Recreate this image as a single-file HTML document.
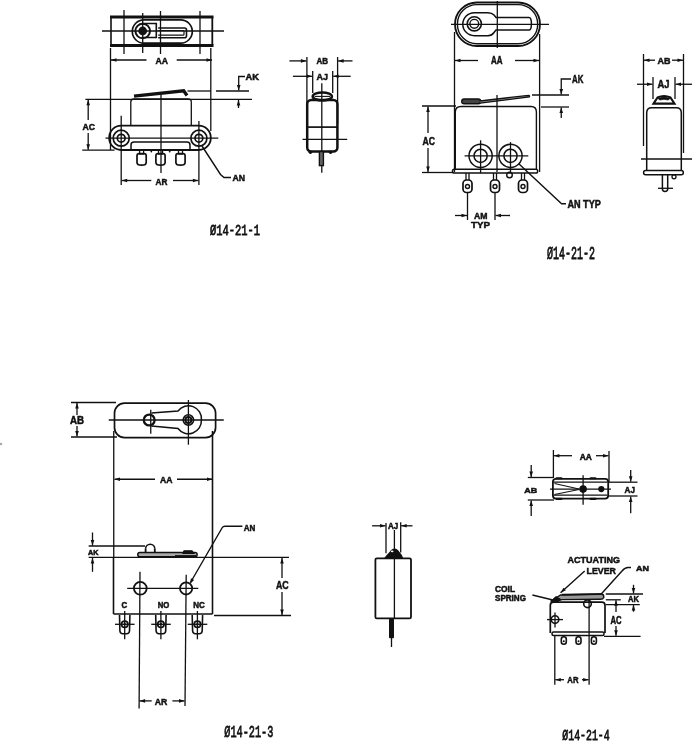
<!DOCTYPE html>
<html><head><meta charset="utf-8"><style>
html,body{margin:0;padding:0;background:#fff;width:694px;height:741px;overflow:hidden}
svg{display:block;will-change:transform}
</style></head><body>
<svg width="694" height="741" viewBox="0 0 694 741" stroke="#111" fill="none" stroke-linecap="butt">
<rect x="0" y="0" width="694" height="741" fill="#fff" stroke="none"/>
<line x1="111" y1="17" x2="111" y2="45.5" stroke-width="1.6"/>
<line x1="212.3" y1="17" x2="212.3" y2="45.5" stroke-width="1.8"/>
<line x1="110" y1="17" x2="213.5" y2="17" stroke-width="3.1"/>
<line x1="110" y1="45.5" x2="213.5" y2="45.5" stroke-width="3.1"/>
<line x1="102" y1="31" x2="224" y2="31" stroke-width="1.3"/>
<line x1="124" y1="10" x2="124" y2="54" stroke-width="1.3"/>
<line x1="142.7" y1="13" x2="142.7" y2="53" stroke-width="1.3"/>
<line x1="160.5" y1="11" x2="160.5" y2="54" stroke-width="1.3"/>
<line x1="200" y1="11" x2="200" y2="54" stroke-width="1.3"/>
<rect x="132.3" y="19.8" width="60" height="23.4" rx="11.7" stroke-width="1.7" fill="none"/>
<circle cx="142.7" cy="31" r="7.3" stroke-width="2.0" fill="none"/>
<circle cx="142.7" cy="31" r="4.4" stroke-width="0" fill="#111"/>
<path d="M141.7,23.5 L156.3,23.5 L156.3,37.5 L141.7,37.5" stroke-width="1.6" fill="none"/>
<path d="M158.2,28 L184.5,28 Q186.5,28 186.5,30 L186.5,35.7 Q186.5,37.7 184.5,37.7 L158.2,37.7" stroke-width="1.6" fill="none"/>
<path d="M158.2,30.5 L183,30.5 Q184,30.5 184,31.5 L184,34.2 Q184,35.2 183,35.2 L158.2,35.2" stroke-width="1.2" fill="none"/>
<line x1="146.5" y1="60" x2="111" y2="60" stroke-width="1.3"/>
<polygon points="111,60 116.50,58.20 116.50,61.80" fill="#111" stroke="none"/>
<line x1="176.7" y1="60" x2="212" y2="60" stroke-width="1.3"/>
<polygon points="212,60 206.50,61.80 206.50,58.20" fill="#111" stroke="none"/>
<text x="155.5" y="64" font-family="Liberation Sans" font-weight="bold" font-size="9.74" textLength="12.50" lengthAdjust="spacingAndGlyphs" fill="#111" stroke="#111" stroke-width="0.5">AA</text>
<line x1="110.5" y1="48" x2="110.5" y2="150" stroke-width="1.3"/>
<line x1="210.8" y1="48" x2="210.8" y2="131" stroke-width="1.3"/>
<polyline points="134,96.2 183.7,90.8 187,95.5" stroke-width="3.3" fill="none"/>
<path d="M130.8,125.6 L130.8,102 Q130.8,99 134,99 L188,99 Q191.3,99 191.3,102 L191.3,125.6" stroke-width="1.3" fill="none"/>
<rect x="109.2" y="125.6" width="101.6" height="24.4" rx="12" stroke-width="1.8" fill="none"/>
<path d="M131,150 L131,145 Q131,142 134,142 L187,142 Q190,142 190,145 L190,150" stroke-width="1.5" fill="none"/>
<circle cx="121.2" cy="138.2" r="8" stroke-width="1.7" fill="none"/>
<circle cx="121.2" cy="138.2" r="3.9" stroke-width="1.7" fill="none"/>
<circle cx="198.9" cy="138.2" r="8" stroke-width="1.7" fill="none"/>
<circle cx="198.9" cy="138.2" r="3.9" stroke-width="1.7" fill="none"/>
<line x1="105.5" y1="138.2" x2="218.3" y2="138.2" stroke-width="1.3"/>
<line x1="121.2" y1="115.7" x2="121.2" y2="185" stroke-width="1.3"/>
<line x1="198.9" y1="121" x2="198.9" y2="185" stroke-width="1.3"/>
<line x1="161" y1="95" x2="161" y2="173" stroke-width="1.3"/>
<rect x="139.6" y="150" width="4" height="4" rx="0" stroke-width="1.3" fill="none"/>
<path d="M137.0,155.8 Q137.0,153.7 139.1,153.7 L144.1,153.7 Q146.2,153.7 146.2,155.8 L146.2,162.5 Q146.2,165.2 141.6,165.2 Q137.0,165.2 137.0,162.5 Z" stroke-width="1.7" fill="none"/>
<rect x="158.5" y="150" width="4" height="4" rx="0" stroke-width="1.3" fill="none"/>
<path d="M155.9,155.8 Q155.9,153.7 158.0,153.7 L163.0,153.7 Q165.1,153.7 165.1,155.8 L165.1,162.5 Q165.1,165.2 160.5,165.2 Q155.9,165.2 155.9,162.5 Z" stroke-width="1.7" fill="none"/>
<rect x="178.5" y="150" width="4" height="4" rx="0" stroke-width="1.3" fill="none"/>
<path d="M175.9,155.8 Q175.9,153.7 178.0,153.7 L183.0,153.7 Q185.1,153.7 185.1,155.8 L185.1,162.5 Q185.1,165.2 180.5,165.2 Q175.9,165.2 175.9,162.5 Z" stroke-width="1.7" fill="none"/>
<circle cx="151.3" cy="151.5" r="0.9" stroke-width="0" fill="#111"/>
<circle cx="169.7" cy="151.5" r="0.9" stroke-width="0" fill="#111"/>
<line x1="85.4" y1="99.3" x2="252" y2="99.3" stroke-width="1.3"/>
<line x1="82.2" y1="150.2" x2="114.6" y2="150.2" stroke-width="1.3"/>
<line x1="88.2" y1="120" x2="88.2" y2="99.8" stroke-width="1.3"/>
<polygon points="88.2,99.8 90.00,105.30 86.40,105.30" fill="#111" stroke="none"/>
<line x1="88.2" y1="133" x2="88.2" y2="149.7" stroke-width="1.3"/>
<polygon points="88.2,149.7 86.40,144.20 90.00,144.20" fill="#111" stroke="none"/>
<text x="82.6" y="130.1" font-family="Liberation Sans" font-weight="bold" font-size="9.05" textLength="12.50" lengthAdjust="spacingAndGlyphs" fill="#111" stroke="#111" stroke-width="0.5">AC</text>
<line x1="187.5" y1="91" x2="211" y2="91" stroke-width="1.3"/>
<line x1="216" y1="91" x2="249" y2="91" stroke-width="1.3"/>
<polyline points="245,76.5 238.7,76.5 238.7,90.5" stroke-width="1.3" fill="none"/>
<polygon points="238.7,90.5 236.90,85.00 240.50,85.00" fill="#111" stroke="none"/>
<line x1="238.5" y1="108" x2="238.5" y2="100" stroke-width="1.3"/>
<polygon points="238.5,100 240.30,105.50 236.70,105.50" fill="#111" stroke="none"/>
<text x="245.5" y="80.3" font-family="Liberation Sans" font-weight="bold" font-size="9.19" textLength="13.50" lengthAdjust="spacingAndGlyphs" fill="#111" stroke="#111" stroke-width="0.5">AK</text>
<polyline points="202,146 220.5,174.5 224,177.5 231,177.5" stroke-width="1.4" fill="none"/>
<text x="232.5" y="181" font-family="Liberation Sans" font-weight="bold" font-size="9.05" textLength="12.50" lengthAdjust="spacingAndGlyphs" fill="#111" stroke="#111" stroke-width="0.5">AN</text>
<line x1="151.3" y1="180.5" x2="121.7" y2="180.5" stroke-width="1.3"/>
<polygon points="121.7,180.5 127.20,178.70 127.20,182.30" fill="#111" stroke="none"/>
<line x1="173" y1="180.5" x2="198.4" y2="180.5" stroke-width="1.3"/>
<polygon points="198.4,180.5 192.90,182.30 192.90,178.70" fill="#111" stroke="none"/>
<text x="155.6" y="184.8" font-family="Liberation Sans" font-weight="bold" font-size="9.47" textLength="11.90" lengthAdjust="spacingAndGlyphs" fill="#111" stroke="#111" stroke-width="0.5">AR</text>
<line x1="289.4" y1="60.9" x2="306.4" y2="60.9" stroke-width="1.3"/>
<polygon points="306.4,60.9 300.90,62.70 300.90,59.10" fill="#111" stroke="none"/>
<line x1="352.5" y1="60.9" x2="338.1" y2="60.9" stroke-width="1.3"/>
<polygon points="338.1,60.9 343.60,59.10 343.60,62.70" fill="#111" stroke="none"/>
<text x="316.5" y="64" font-family="Liberation Sans" font-weight="bold" font-size="8.92" textLength="11.50" lengthAdjust="spacingAndGlyphs" fill="#111" stroke="#111" stroke-width="0.5">AB</text>
<line x1="292.9" y1="76.3" x2="312.2" y2="76.3" stroke-width="1.3"/>
<polygon points="312.2,76.3 306.70,78.10 306.70,74.50" fill="#111" stroke="none"/>
<line x1="350.7" y1="76.3" x2="333.2" y2="76.3" stroke-width="1.3"/>
<polygon points="333.2,76.3 338.70,74.50 338.70,78.10" fill="#111" stroke="none"/>
<text x="316.5" y="79.8" font-family="Liberation Sans" font-weight="bold" font-size="9.47" textLength="11.50" lengthAdjust="spacingAndGlyphs" fill="#111" stroke="#111" stroke-width="0.5">AJ</text>
<line x1="306.9" y1="57" x2="306.9" y2="123.6" stroke-width="1.3"/>
<line x1="337.6" y1="57" x2="337.6" y2="123.6" stroke-width="1.3"/>
<line x1="312.7" y1="71" x2="312.7" y2="93" stroke-width="1.3"/>
<line x1="332.7" y1="71" x2="332.7" y2="93" stroke-width="1.3"/>
<rect x="307.2" y="100" width="30.2" height="51.6" rx="4" stroke-width="2.5" fill="none"/>
<line x1="307.2" y1="127.1" x2="337.4" y2="127.1" stroke-width="1.7"/>
<ellipse cx="322.3" cy="96.4" rx="9.6" ry="4" stroke-width="2.5" fill="none"/>
<line x1="314.5" y1="96.4" x2="330" y2="96.4" stroke-width="1.1"/>
<line x1="321.8" y1="83.3" x2="321.8" y2="172.7" stroke-width="1.3"/>
<line x1="302.5" y1="139.4" x2="347.2" y2="139.4" stroke-width="1.3"/>
<rect x="319.4" y="151.6" width="4" height="14" rx="0" stroke-width="1.4" fill="#666"/>
<circle cx="310.4" cy="152.3" r="1.8" stroke-width="0" fill="#111"/>
<circle cx="330.6" cy="152.3" r="1.8" stroke-width="0" fill="#111"/>
<text x="210" y="235" font-family="Liberation Mono" font-weight="normal" font-size="15.15" textLength="50" lengthAdjust="spacingAndGlyphs" fill="#111" stroke="#111" stroke-width="0.8">Ø14-21-1</text>
<rect x="455" y="2.5" width="85" height="43.5" rx="21.75" stroke-width="1.8" fill="none"/>
<rect x="457.4" y="4.6" width="80.3" height="39.2" rx="19.6" stroke-width="1.4" fill="none"/>
<path d="M474.3,12.7 L488,12.7 Q492,12.7 494,15 L496,17.4 L529,17.4 Q531.4,17.4 531.4,23.7 Q531.4,30.1 529,30.1 L496,30.1 L494,32.5 Q492,35.7 488,35.7 L474.3,35.7 A11.5,11.5 0 0 1 474.3,12.7 Z" stroke-width="1.5" fill="none"/>
<circle cx="474.3" cy="23.8" r="7.1" stroke-width="1.6" fill="none"/>
<circle cx="474.3" cy="23.8" r="4.4" stroke-width="1.4" fill="none"/>
<line x1="451" y1="24.4" x2="549" y2="24.4" stroke-width="1.3"/>
<line x1="497.3" y1="1" x2="497.3" y2="48" stroke-width="1.3"/>
<line x1="454.5" y1="32" x2="454.5" y2="172" stroke-width="1.3"/>
<line x1="539.6" y1="34" x2="539.6" y2="172" stroke-width="1.3"/>
<line x1="478" y1="60.5" x2="455" y2="60.5" stroke-width="1.3"/>
<polygon points="455,60.5 460.50,58.70 460.50,62.30" fill="#111" stroke="none"/>
<line x1="515" y1="60.5" x2="539" y2="60.5" stroke-width="1.3"/>
<polygon points="539,60.5 533.50,62.30 533.50,58.70" fill="#111" stroke="none"/>
<text x="491" y="64" font-family="Liberation Sans" font-weight="bold" font-size="10.15" textLength="11.50" lengthAdjust="spacingAndGlyphs" fill="#111" stroke="#111" stroke-width="0.5">AA</text>
<path d="M455.3,169.3 L455.3,112 Q455.3,106.5 461,106.5 L531,106.5 Q536.4,106.5 536.4,112 L536.4,169.3" stroke-width="1.4" fill="none"/>
<rect x="461.8" y="99" width="18.8" height="4.7" rx="2.3" stroke-width="1.5" fill="#444"/>
<path d="M480,101 L528.5,95.3 Q530,95.6 529.3,97 L480,103.2" stroke-width="1.3" fill="#999"/>
<line x1="497" y1="95" x2="497" y2="172" stroke-width="1.3"/>
<circle cx="480.6" cy="155.8" r="11.6" stroke-width="1.5" fill="none"/>
<circle cx="480.6" cy="155.8" r="6.6" stroke-width="1.5" fill="none"/>
<circle cx="510.5" cy="155.8" r="11.6" stroke-width="1.5" fill="none"/>
<circle cx="510.5" cy="155.8" r="6.6" stroke-width="1.5" fill="none"/>
<line x1="480.6" y1="140.3" x2="480.6" y2="173" stroke-width="1.3"/>
<line x1="510.5" y1="142.1" x2="510.5" y2="173" stroke-width="1.3"/>
<line x1="464.6" y1="155.8" x2="528.3" y2="155.8" stroke-width="1.3"/>
<rect x="452.5" y="169.3" width="85.2" height="3.7" rx="1.8" stroke-width="1.5" fill="none"/>
<line x1="466.0" y1="173" x2="466.0" y2="180" stroke-width="1.3"/>
<line x1="469.0" y1="173" x2="469.0" y2="180" stroke-width="1.3"/>
<rect x="463.0" y="180" width="9" height="12.5" rx="3.5" stroke-width="1.7" fill="none"/>
<circle cx="467.5" cy="186.5" r="2" stroke-width="1.4" fill="none"/>
<line x1="493.5" y1="173" x2="493.5" y2="180" stroke-width="1.3"/>
<line x1="496.5" y1="173" x2="496.5" y2="180" stroke-width="1.3"/>
<rect x="490.5" y="180" width="9" height="12.5" rx="3.5" stroke-width="1.7" fill="none"/>
<circle cx="495" cy="186.5" r="2" stroke-width="1.4" fill="none"/>
<line x1="521.5" y1="173" x2="521.5" y2="180" stroke-width="1.3"/>
<line x1="524.5" y1="173" x2="524.5" y2="180" stroke-width="1.3"/>
<rect x="518.5" y="180" width="9" height="12.5" rx="3.5" stroke-width="1.7" fill="none"/>
<circle cx="523" cy="186.5" r="2" stroke-width="1.4" fill="none"/>
<circle cx="509.5" cy="175" r="2.8" stroke-width="1.4" fill="none"/>
<line x1="422" y1="106" x2="456" y2="106" stroke-width="1.3"/>
<line x1="422" y1="172.5" x2="453" y2="172.5" stroke-width="1.3"/>
<line x1="428" y1="133" x2="428" y2="106.5" stroke-width="1.3"/>
<polygon points="428,106.5 429.80,112.00 426.20,112.00" fill="#111" stroke="none"/>
<line x1="428" y1="148" x2="428" y2="172" stroke-width="1.3"/>
<polygon points="428,172 426.20,166.50 429.80,166.50" fill="#111" stroke="none"/>
<text x="422.5" y="145" font-family="Liberation Sans" font-weight="bold" font-size="10.84" textLength="12.50" lengthAdjust="spacingAndGlyphs" fill="#111" stroke="#111" stroke-width="0.5">AC</text>
<line x1="532" y1="95" x2="569" y2="95" stroke-width="1.3"/>
<line x1="541" y1="107" x2="569" y2="107" stroke-width="1.3"/>
<polyline points="571,79 561.25,79 561.25,94.5" stroke-width="1.3" fill="none"/>
<polygon points="561.25,94.5 559.45,89.00 563.05,89.00" fill="#111" stroke="none"/>
<line x1="561.25" y1="118" x2="561.25" y2="107.5" stroke-width="1.3"/>
<polygon points="561.25,107.5 563.05,113.00 559.45,113.00" fill="#111" stroke="none"/>
<text x="572" y="83.4" font-family="Liberation Sans" font-weight="bold" font-size="10.70" textLength="11.40" lengthAdjust="spacingAndGlyphs" fill="#111" stroke="#111" stroke-width="0.5">AK</text>
<line x1="467.5" y1="192" x2="467.5" y2="220" stroke-width="1.3"/>
<line x1="495" y1="192" x2="495" y2="220" stroke-width="1.3"/>
<line x1="455" y1="215.5" x2="467" y2="215.5" stroke-width="1.3"/>
<polygon points="467,215.5 461.50,217.30 461.50,213.70" fill="#111" stroke="none"/>
<line x1="510" y1="215.5" x2="495.5" y2="215.5" stroke-width="1.3"/>
<polygon points="495.5,215.5 501.00,213.70 501.00,217.30" fill="#111" stroke="none"/>
<text x="474" y="219" font-family="Liberation Sans" font-weight="bold" font-size="9.47" textLength="13.50" lengthAdjust="spacingAndGlyphs" fill="#111" stroke="#111" stroke-width="0.5">AM</text>
<text x="471" y="227.5" font-family="Liberation Sans" font-weight="bold" font-size="9.47" textLength="19.00" lengthAdjust="spacingAndGlyphs" fill="#111" stroke="#111" stroke-width="0.5">TYP</text>
<polyline points="518.75,163.75 561.6,203.8 566,203.8" stroke-width="1.4" fill="none"/>
<text x="567.4" y="208.2" font-family="Liberation Sans" font-weight="bold" font-size="10.43" textLength="33.40" lengthAdjust="spacingAndGlyphs" fill="#111" stroke="#111" stroke-width="0.5">AN TYP</text>
<text x="547" y="259" font-family="Liberation Mono" font-weight="normal" font-size="17.58" textLength="48" lengthAdjust="spacingAndGlyphs" fill="#111" stroke="#111" stroke-width="0.8">Ø14-21-2</text>
<line x1="643.5" y1="54" x2="643.5" y2="146" stroke-width="1.3"/>
<line x1="683.5" y1="54" x2="683.5" y2="153" stroke-width="1.3"/>
<line x1="655" y1="60.2" x2="644" y2="60.2" stroke-width="1.3"/>
<polygon points="644,60.2 649.50,58.40 649.50,62.00" fill="#111" stroke="none"/>
<line x1="672" y1="60.2" x2="683" y2="60.2" stroke-width="1.3"/>
<polygon points="683,60.2 677.50,62.00 677.50,58.40" fill="#111" stroke="none"/>
<text x="657.5" y="63.5" font-family="Liberation Sans" font-weight="bold" font-size="9.47" textLength="13.00" lengthAdjust="spacingAndGlyphs" fill="#111" stroke="#111" stroke-width="0.5">AB</text>
<line x1="653" y1="77" x2="653" y2="99" stroke-width="1.3"/>
<line x1="675" y1="77" x2="675" y2="99" stroke-width="1.3"/>
<line x1="637" y1="84.25" x2="652.5" y2="84.25" stroke-width="1.3"/>
<polygon points="652.5,84.25 647.00,86.05 647.00,82.45" fill="#111" stroke="none"/>
<line x1="692" y1="84.25" x2="675.5" y2="84.25" stroke-width="1.3"/>
<polygon points="675.5,84.25 681.00,82.45 681.00,86.05" fill="#111" stroke="none"/>
<text x="657.5" y="88" font-family="Liberation Sans" font-weight="bold" font-size="10.15" textLength="12.00" lengthAdjust="spacingAndGlyphs" fill="#111" stroke="#111" stroke-width="0.5">AJ</text>
<path d="M653.5,103.6 L657.5,97.5 Q664,94.5 670.5,97.5 L674.5,103.6 Z" stroke-width="2.1" fill="#fff"/>
<path d="M658,98.5 Q664,95.5 670,98.5 L668,100 Q664,98.5 660,100 Z" stroke-width="0.8" fill="#111"/>
<path d="M646.7,170.5 L646.7,112.8 Q646.7,107.8 651.7,107.8 L676.3,107.8 Q681.3,107.8 681.3,112.8 L681.3,170.5" stroke-width="1.5" fill="none"/>
<line x1="641" y1="159" x2="692" y2="159" stroke-width="1.3"/>
<rect x="643.6" y="170.5" width="39.7" height="4.2" rx="2" stroke-width="1.5" fill="none"/>
<path d="M662.4,174.7 L662.4,189 Q662.4,191.4 665,191.4 Q667.7,191.4 667.7,189 L667.7,174.7" stroke-width="1.5" fill="none"/>
<line x1="658" y1="188.3" x2="673" y2="188.3" stroke-width="1.3"/>
<circle cx="674" cy="176.8" r="2" stroke-width="1.3" fill="none"/>
<rect x="114.5" y="403.2" width="101.1" height="34.4" rx="10" stroke-width="1.7" fill="none"/>
<line x1="108.75" y1="420" x2="223.75" y2="420" stroke-width="1.3"/>
<line x1="150.75" y1="409.7" x2="150.75" y2="433.7" stroke-width="1.3"/>
<line x1="188.4" y1="400" x2="188.4" y2="444.7" stroke-width="1.3"/>
<path d="M151.4,412.9 L178,411 A13,13 0 0 1 201.4,420 A13,13 0 0 1 178,428.5 L151.4,425.9" stroke-width="1.5" fill="none"/>
<circle cx="149.2" cy="420" r="5.4" stroke-width="2.3" fill="none"/>
<circle cx="188.4" cy="420" r="5.2" stroke-width="1.6" fill="none"/>
<circle cx="188.4" cy="420" r="3" stroke-width="1.9" fill="none"/>
<line x1="71" y1="402.5" x2="116" y2="402.5" stroke-width="1.3"/>
<line x1="71" y1="437" x2="117" y2="437" stroke-width="1.3"/>
<line x1="77" y1="415" x2="77" y2="403" stroke-width="1.3"/>
<polygon points="77,403 78.80,408.50 75.20,408.50" fill="#111" stroke="none"/>
<line x1="77" y1="426" x2="77" y2="436.5" stroke-width="1.3"/>
<polygon points="77,436.5 75.20,431.00 78.80,431.00" fill="#111" stroke="none"/>
<text x="70" y="424" font-family="Liberation Sans" font-weight="bold" font-size="10.15" textLength="14.00" lengthAdjust="spacingAndGlyphs" fill="#111" stroke="#111" stroke-width="0.5">AB</text>
<line x1="113.75" y1="431" x2="113.75" y2="557" stroke-width="1.3"/>
<line x1="155" y1="479.25" x2="114.5" y2="479.25" stroke-width="1.3"/>
<polygon points="114.5,479.25 120.00,477.45 120.00,481.05" fill="#111" stroke="none"/>
<line x1="177" y1="479.25" x2="212.5" y2="479.25" stroke-width="1.3"/>
<polygon points="212.5,479.25 207.00,481.05 207.00,477.45" fill="#111" stroke="none"/>
<text x="160" y="482.5" font-family="Liberation Sans" font-weight="bold" font-size="9.47" textLength="12.50" lengthAdjust="spacingAndGlyphs" fill="#111" stroke="#111" stroke-width="0.5">AA</text>
<line x1="88.7" y1="546" x2="145" y2="546" stroke-width="1.3"/>
<line x1="88.7" y1="557.4" x2="289" y2="557.4" stroke-width="1.3"/>
<line x1="92.5" y1="532.5" x2="92.5" y2="545.6" stroke-width="1.3"/>
<polygon points="92.5,545.6 90.70,540.10 94.30,540.10" fill="#111" stroke="none"/>
<line x1="92.5" y1="571.8" x2="92.5" y2="557.9" stroke-width="1.3"/>
<polygon points="92.5,557.9 94.30,563.40 90.70,563.40" fill="#111" stroke="none"/>
<text x="88" y="555.3" font-family="Liberation Sans" font-weight="bold" font-size="7.13" textLength="10.50" lengthAdjust="spacingAndGlyphs" fill="#111" stroke="#111" stroke-width="0.5">AK</text>
<path d="M145.6,548.8 A4.6,4.6 0 0 1 154.8,548.8" stroke-width="1.6" fill="none"/>
<path d="M145.6,548.8 L145.6,552.5 M154.8,548.8 L154.8,552.5" stroke-width="1.8" fill="none"/>
<rect x="137.8" y="552.6" width="59.3" height="4.2" rx="2" stroke-width="1.5" fill="#aaa"/>
<path d="M183,553.5 L184,550.8 L192,550.8 L194,553.5 Z" stroke-width="1.1" fill="#111"/>
<line x1="175" y1="556" x2="196" y2="556" stroke-width="1.8"/>
<line x1="113.5" y1="557.2" x2="113.5" y2="614" stroke-width="1.6"/>
<line x1="212.5" y1="431" x2="212.5" y2="614" stroke-width="1.6"/>
<line x1="113.5" y1="614" x2="212.5" y2="614" stroke-width="1.7"/>
<path d="M242.4,526.2 L225,526.2 Q223,526.2 222,528 L190.5,582.5" stroke-width="1.4" fill="none"/>
<polygon points="189.9,583.9 190.97,578.21 194.13,579.95" fill="#111" stroke="none"/>
<text x="243.7" y="530.8" font-family="Liberation Sans" font-weight="bold" font-size="9.47" textLength="11.70" lengthAdjust="spacingAndGlyphs" fill="#111" stroke="#111" stroke-width="0.5">AN</text>
<circle cx="140.3" cy="588.3" r="6.4" stroke-width="1.8" fill="none"/>
<circle cx="186.1" cy="588.4" r="6.1" stroke-width="1.8" fill="none"/>
<line x1="127.2" y1="588.3" x2="198.3" y2="588.3" stroke-width="1.3"/>
<line x1="140" y1="571.8" x2="139.1" y2="708.4" stroke-width="1.3"/>
<line x1="186.2" y1="574.8" x2="185" y2="705.9" stroke-width="1.3"/>
<text x="121.5" y="608.4" font-family="Liberation Sans" font-weight="bold" font-size="8.37" textLength="5.70" lengthAdjust="spacingAndGlyphs" fill="#111" stroke="#111" stroke-width="0.5">C</text>
<text x="157.7" y="608.4" font-family="Liberation Sans" font-weight="bold" font-size="8.37" textLength="11.60" lengthAdjust="spacingAndGlyphs" fill="#111" stroke="#111" stroke-width="0.5">NO</text>
<text x="193.3" y="608.4" font-family="Liberation Sans" font-weight="bold" font-size="8.37" textLength="11.60" lengthAdjust="spacingAndGlyphs" fill="#111" stroke="#111" stroke-width="0.5">NC</text>
<path d="M119.5,615 L119.9,631 Q120.2,633.7 122.7,633.7 L126.7,633.7 Q129.2,633.7 129.5,631 L129.9,615" stroke-width="1.6" fill="none"/>
<circle cx="124.7" cy="624.3" r="3.2" stroke-width="1.7" fill="none"/>
<circle cx="124.7" cy="624.3" r="1.2" stroke-width="0" fill="#111"/>
<line x1="115.0" y1="624.3" x2="134.6" y2="624.3" stroke-width="1.3"/>
<line x1="124.7" y1="611" x2="124.7" y2="639.3" stroke-width="1.3"/>
<path d="M155.70000000000002,615 L156.1,631 Q156.4,633.7 158.9,633.7 L162.9,633.7 Q165.4,633.7 165.70000000000002,631 L166.1,615" stroke-width="1.6" fill="none"/>
<circle cx="160.9" cy="624.3" r="3.2" stroke-width="1.7" fill="none"/>
<circle cx="160.9" cy="624.3" r="1.2" stroke-width="0" fill="#111"/>
<line x1="151.20000000000002" y1="624.3" x2="170.8" y2="624.3" stroke-width="1.3"/>
<line x1="160.9" y1="611" x2="160.9" y2="639.3" stroke-width="1.3"/>
<path d="M192.20000000000002,615 L192.6,631 Q192.9,633.7 195.4,633.7 L199.4,633.7 Q201.9,633.7 202.20000000000002,631 L202.6,615" stroke-width="1.6" fill="none"/>
<circle cx="197.4" cy="624.3" r="3.2" stroke-width="1.7" fill="none"/>
<circle cx="197.4" cy="624.3" r="1.2" stroke-width="0" fill="#111"/>
<line x1="187.70000000000002" y1="624.3" x2="207.3" y2="624.3" stroke-width="1.3"/>
<line x1="197.4" y1="611" x2="197.4" y2="639.3" stroke-width="1.3"/>
<line x1="151.7" y1="700.9" x2="139.6" y2="700.9" stroke-width="1.3"/>
<polygon points="139.6,700.9 145.10,699.10 145.10,702.70" fill="#111" stroke="none"/>
<line x1="172.4" y1="700.9" x2="184.5" y2="700.9" stroke-width="1.3"/>
<polygon points="184.5,700.9 179.00,702.70 179.00,699.10" fill="#111" stroke="none"/>
<text x="154.7" y="704.9" font-family="Liberation Sans" font-weight="bold" font-size="9.60" textLength="12.60" lengthAdjust="spacingAndGlyphs" fill="#111" stroke="#111" stroke-width="0.5">AR</text>
<line x1="214" y1="615.5" x2="291" y2="615.5" stroke-width="1.3"/>
<line x1="282" y1="578" x2="282" y2="558" stroke-width="1.3"/>
<polygon points="282,558 283.80,563.50 280.20,563.50" fill="#111" stroke="none"/>
<line x1="282" y1="592" x2="282" y2="615" stroke-width="1.3"/>
<polygon points="282,615 280.20,609.50 283.80,609.50" fill="#111" stroke="none"/>
<text x="276" y="588.75" font-family="Liberation Sans" font-weight="bold" font-size="11.18" textLength="12.75" lengthAdjust="spacingAndGlyphs" fill="#111" stroke="#111" stroke-width="0.5">AC</text>
<text x="224.3" y="737.4" font-family="Liberation Mono" font-weight="normal" font-size="17.27" textLength="49.099999999999966" lengthAdjust="spacingAndGlyphs" fill="#111" stroke="#111" stroke-width="0.8">Ø14-21-3</text>
<line x1="372.1" y1="525.8" x2="385.5" y2="525.8" stroke-width="1.3"/>
<polygon points="385.5,525.8 380.00,527.60 380.00,524.00" fill="#111" stroke="none"/>
<line x1="412.5" y1="525.8" x2="401.2" y2="525.8" stroke-width="1.3"/>
<polygon points="401.2,525.8 406.70,524.00 406.70,527.60" fill="#111" stroke="none"/>
<text x="388" y="528.6" font-family="Liberation Sans" font-weight="bold" font-size="8.64" textLength="10.30" lengthAdjust="spacingAndGlyphs" fill="#111" stroke="#111" stroke-width="0.5">AJ</text>
<line x1="386" y1="523" x2="386" y2="553.2" stroke-width="1.3"/>
<line x1="400.7" y1="522.3" x2="400.7" y2="552.4" stroke-width="1.3"/>
<path d="M384.8,558.3 Q387,555.5 390,552.5 Q392,549.2 394.5,549.2 Q397,549.2 399,552.5 Q402,555.5 402.6,558.3 Z" stroke-width="1.3" fill="#111"/>
<ellipse cx="392.2" cy="551.3" rx="1.4" ry="0.9" stroke-width="0" fill="#fff"/>
<rect x="375.4" y="558.3" width="35.6" height="60.1" rx="1.5" stroke-width="1.8" fill="none"/>
<line x1="394.4" y1="530" x2="394.4" y2="618.4" stroke-width="1.3"/>
<rect x="389" y="618.4" width="5" height="19.8" rx="1" stroke-width="0" fill="#111"/>
<line x1="391.5" y1="638" x2="391.5" y2="647" stroke-width="1.3"/>
<line x1="553.4" y1="450" x2="553.4" y2="478" stroke-width="1.3"/>
<line x1="609" y1="451" x2="609" y2="482" stroke-width="1.3"/>
<line x1="572" y1="455.7" x2="553.9" y2="455.7" stroke-width="1.3"/>
<polygon points="553.9,455.7 559.40,453.90 559.40,457.50" fill="#111" stroke="none"/>
<line x1="596" y1="455.7" x2="608.5" y2="455.7" stroke-width="1.3"/>
<polygon points="608.5,455.7 603.00,457.50 603.00,453.90" fill="#111" stroke="none"/>
<text x="579.7" y="460.2" font-family="Liberation Sans" font-weight="bold" font-size="8.37" textLength="12.10" lengthAdjust="spacingAndGlyphs" fill="#111" stroke="#111" stroke-width="0.5">AA</text>
<rect x="552.9" y="478.9" width="55.3" height="19.7" rx="3" stroke-width="1.8" fill="none"/>
<line x1="553.5" y1="482.2" x2="607.5" y2="482.2" stroke-width="1.3"/>
<line x1="553.5" y1="495.1" x2="607.5" y2="495.1" stroke-width="1.3"/>
<rect x="555.5" y="477.3" width="7" height="2" rx="1" stroke-width="0" fill="#111"/>
<rect x="555.5" y="497.8" width="7" height="2.2" rx="1" stroke-width="0" fill="#111"/>
<rect x="589.5" y="477.3" width="7" height="2" rx="1" stroke-width="0" fill="#111"/>
<rect x="589.5" y="497.8" width="7" height="2.2" rx="1" stroke-width="0" fill="#111"/>
<polyline points="554.5,483.5 579,489" stroke-width="1.2" fill="none"/>
<polyline points="554.5,494.5 579,489.5" stroke-width="1.2" fill="none"/>
<circle cx="583.1" cy="489.1" r="3.8" stroke-width="0" fill="#111"/>
<circle cx="601.3" cy="489.1" r="3.1" stroke-width="0" fill="#111"/>
<line x1="550" y1="489.1" x2="611" y2="489.1" stroke-width="1.3"/>
<line x1="583.1" y1="475.3" x2="583.1" y2="504.7" stroke-width="1.3"/>
<line x1="527.8" y1="477.5" x2="553" y2="477.5" stroke-width="1.3"/>
<line x1="527.8" y1="500" x2="554" y2="500" stroke-width="1.3"/>
<line x1="531.2" y1="464.9" x2="531.2" y2="477" stroke-width="1.3"/>
<polygon points="531.2,477 529.40,471.50 533.00,471.50" fill="#111" stroke="none"/>
<line x1="531.2" y1="515.9" x2="531.2" y2="500.5" stroke-width="1.3"/>
<polygon points="531.2,500.5 533.00,506.00 529.40,506.00" fill="#111" stroke="none"/>
<text x="524.3" y="492.6" font-family="Liberation Sans" font-weight="bold" font-size="7.68" textLength="13.00" lengthAdjust="spacingAndGlyphs" fill="#111" stroke="#111" stroke-width="0.5">AB</text>
<line x1="608.2" y1="482.2" x2="637.5" y2="482.2" stroke-width="1.3"/>
<line x1="608.2" y1="496" x2="637.5" y2="496" stroke-width="1.3"/>
<line x1="630.7" y1="470" x2="630.7" y2="481.7" stroke-width="1.3"/>
<polygon points="630.7,481.7 628.90,476.20 632.50,476.20" fill="#111" stroke="none"/>
<line x1="630.7" y1="513.3" x2="630.7" y2="496.5" stroke-width="1.3"/>
<polygon points="630.7,496.5 632.50,502.00 628.90,502.00" fill="#111" stroke="none"/>
<text x="624.6" y="493.4" font-family="Liberation Sans" font-weight="bold" font-size="8.78" textLength="10.40" lengthAdjust="spacingAndGlyphs" fill="#111" stroke="#111" stroke-width="0.5">AJ</text>
<text x="567.5" y="562.5" font-family="Liberation Sans" font-weight="bold" font-size="9.47" textLength="52.50" lengthAdjust="spacingAndGlyphs" fill="#111" stroke="#111" stroke-width="0.5">ACTUATING</text>
<text x="586.5" y="573.6" font-family="Liberation Sans" font-weight="bold" font-size="9.60" textLength="29.50" lengthAdjust="spacingAndGlyphs" fill="#111" stroke="#111" stroke-width="0.5">LEVER</text>
<text x="636" y="571" font-family="Liberation Sans" font-weight="bold" font-size="8.09" textLength="13.00" lengthAdjust="spacingAndGlyphs" fill="#111" stroke="#111" stroke-width="0.5">AN</text>
<text x="495" y="592.4" font-family="Liberation Sans" font-weight="bold" font-size="8.64" textLength="20.00" lengthAdjust="spacingAndGlyphs" fill="#111" stroke="#111" stroke-width="0.5">COIL</text>
<text x="495" y="601" font-family="Liberation Sans" font-weight="bold" font-size="8.37" textLength="31.00" lengthAdjust="spacingAndGlyphs" fill="#111" stroke="#111" stroke-width="0.5">SPRING</text>
<line x1="532.4" y1="595" x2="551.9" y2="599.8" stroke-width="1.4"/>
<line x1="584.7" y1="571" x2="560.6" y2="592.7" stroke-width="1.4"/>
<polygon points="560.6,592.7 563.48,587.68 565.89,590.36" fill="#111" stroke="none"/>
<path d="M631,567.5 L628,567.5 Q625,567.5 622,571 L601,594.3" stroke-width="1.4" fill="none"/>
<path d="M551,601 L560.6,595 L601.8,594 Q604,594.5 603.8,597.5 Q603,599.5 600,599.3 L562,599.6 L552,602.5 Z" stroke-width="1.4" fill="#999"/>
<polygon points="551,601 556,596.5 561,599.5 557,602" stroke-width="0.9" fill="#111"/>
<line x1="562" y1="594.6" x2="601" y2="594.1" stroke-width="1.6"/>
<path d="M550.3,633 L550.3,605.5 Q550.3,602.2 553.5,602.2 L601.8,602.2 Q605,602.2 605,605.5 L605,633" stroke-width="1.7" fill="none"/>
<circle cx="587.5" cy="603.8" r="3.8" stroke-width="1.6" fill="none"/>
<circle cx="555" cy="619.6" r="3.8" stroke-width="1.6" fill="none"/>
<line x1="547" y1="619.6" x2="563" y2="619.6" stroke-width="1.3"/>
<line x1="555" y1="612.5" x2="555" y2="627.5" stroke-width="1.3"/>
<rect x="552" y="632" width="52" height="3.5" rx="1.5" stroke-width="1.5" fill="none"/>
<rect x="561.3" y="636.8" width="5" height="7.4" rx="2.4" stroke-width="1.6" fill="#fff"/>
<circle cx="563.8" cy="641.2" r="1.0" stroke-width="0" fill="#111"/>
<rect x="576.0" y="636.8" width="5" height="7.4" rx="2.4" stroke-width="1.6" fill="#fff"/>
<circle cx="578.5" cy="641.2" r="1.0" stroke-width="0" fill="#111"/>
<rect x="591.4" y="636.8" width="5" height="7.4" rx="2.4" stroke-width="1.6" fill="#fff"/>
<circle cx="593.9" cy="641.2" r="1.0" stroke-width="0" fill="#111"/>
<line x1="554.8" y1="636" x2="554.8" y2="684.7" stroke-width="1.3"/>
<line x1="589.1" y1="599" x2="589.1" y2="684.7" stroke-width="1.3"/>
<line x1="564" y1="679.7" x2="555.3" y2="679.7" stroke-width="1.3"/>
<polygon points="555.3,679.7 560.80,677.90 560.80,681.50" fill="#111" stroke="none"/>
<line x1="582" y1="679.7" x2="588.6" y2="679.7" stroke-width="1.3"/>
<polygon points="588.6,679.7 583.10,681.50 583.10,677.90" fill="#111" stroke="none"/>
<text x="567.3" y="683.4" font-family="Liberation Sans" font-weight="bold" font-size="9.74" textLength="11.20" lengthAdjust="spacingAndGlyphs" fill="#111" stroke="#111" stroke-width="0.5">AR</text>
<line x1="605.8" y1="594" x2="643" y2="594" stroke-width="1.3"/>
<line x1="605.8" y1="604.6" x2="639.8" y2="604.6" stroke-width="1.3"/>
<line x1="605.8" y1="599.8" x2="620.8" y2="599.8" stroke-width="1.3"/>
<line x1="604" y1="636.3" x2="640.6" y2="636.3" stroke-width="1.3"/>
<line x1="633.5" y1="584.8" x2="633.5" y2="593.5" stroke-width="1.3"/>
<polygon points="633.5,593.5 631.70,588.00 635.30,588.00" fill="#111" stroke="none"/>
<line x1="633.5" y1="611.7" x2="633.5" y2="605.1" stroke-width="1.3"/>
<polygon points="633.5,605.1 635.30,610.60 631.70,610.60" fill="#111" stroke="none"/>
<text x="628" y="602.2" font-family="Liberation Sans" font-weight="bold" font-size="9.05" textLength="11.00" lengthAdjust="spacingAndGlyphs" fill="#111" stroke="#111" stroke-width="0.5">AK</text>
<line x1="616" y1="612" x2="616" y2="600.3" stroke-width="1.3"/>
<polygon points="616,600.3 617.80,605.80 614.20,605.80" fill="#111" stroke="none"/>
<line x1="616" y1="626" x2="616" y2="635.8" stroke-width="1.3"/>
<polygon points="616,635.8 614.20,630.30 617.80,630.30" fill="#111" stroke="none"/>
<text x="610.5" y="623.6" font-family="Liberation Sans" font-weight="bold" font-size="10.29" textLength="11.10" lengthAdjust="spacingAndGlyphs" fill="#111" stroke="#111" stroke-width="0.5">AC</text>
<text x="562.3" y="739.5" font-family="Liberation Mono" font-weight="normal" font-size="15.00" textLength="47.40000000000009" lengthAdjust="spacingAndGlyphs" fill="#111" stroke="#111" stroke-width="0.8">Ø14-21-4</text>
<circle cx="1" cy="444" r="1.3" stroke-width="0" fill="#aaa"/>
</svg></body></html>
